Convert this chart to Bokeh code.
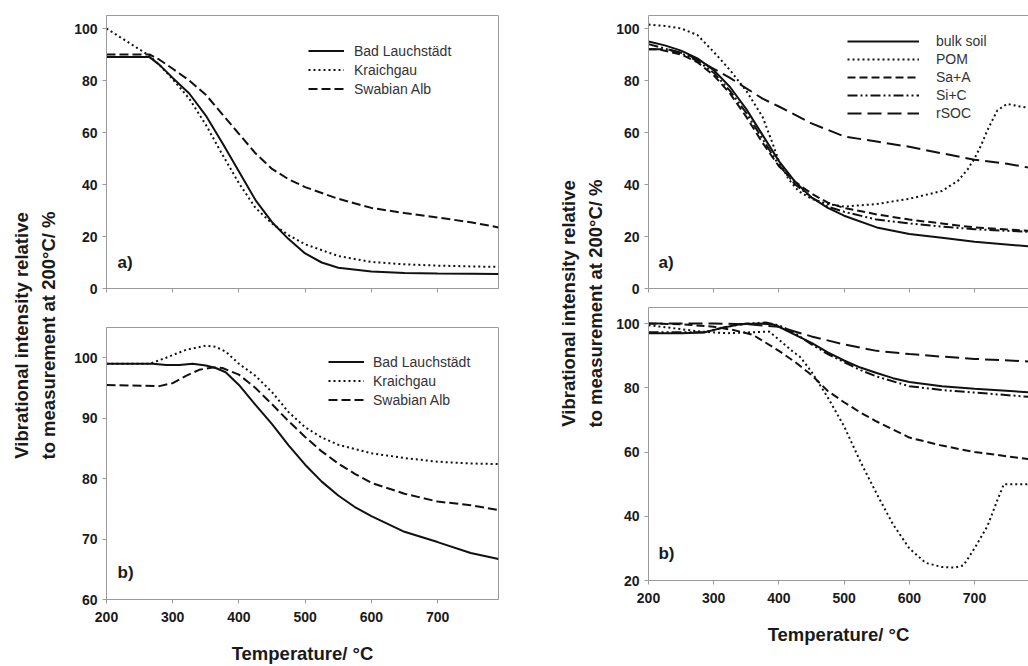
import math
from bokeh.plotting import figure
from bokeh.layouts import row, column
from bokeh.models import Label, Legend, LegendItem, LinearAxis, FixedTicker, Range1d
from bokeh.embed import file_html
from bokeh.resources import INLINE

# ---------------- data ----------------
x_ticks = [200, 300, 400, 500, 600, 700]

# Left panel a)
la_names = ["Bad Lauchstädt", "Kraichgau", "Swabian Alb"]
la_bl_t = [200, 265, 280, 300, 325, 350, 375, 400, 425, 450, 475, 500, 525, 550, 600, 650, 700, 750, 792]
la_bl_v = [89, 89, 86, 81, 75, 66.5, 56, 45, 34, 25.5, 19, 13.5, 10, 8, 6.5, 6, 5.8, 5.7, 5.6]
la_kr_t = [200, 265, 280, 300, 325, 350, 375, 400, 425, 450, 475, 500, 550, 600, 650, 700, 750, 792]
la_kr_v = [100, 89.5, 86, 80.5, 73, 63, 51.5, 40.5, 31, 25, 20.5, 17, 12.5, 10.2, 9.3, 8.8, 8.5, 8.3]
la_sa_t = [200, 265, 280, 300, 325, 350, 375, 400, 425, 450, 475, 500, 550, 600, 650, 700, 750, 792]
la_sa_v = [90, 90, 88, 84.5, 80, 74.5, 67, 59.5, 52, 46, 42, 39, 34.5, 31, 29, 27.3, 25.5, 23.5]
la_yticks = [0, 20, 40, 60, 80, 100]

# Left panel b)
lb_bl_t = [200, 270, 290, 310, 330, 350, 365, 380, 400, 425, 450, 475, 500, 525, 550, 575, 600, 650, 700, 750, 792]
lb_bl_v = [99, 99, 98.8, 98.8, 99, 98.7, 98.3, 97.6, 95.5, 92.2, 89, 85.5, 82.3, 79.5, 77.2, 75.3, 73.8, 71.2, 69.5, 67.7, 66.7]
lb_kr_t = [200, 265, 290, 320, 350, 365, 380, 400, 425, 450, 475, 500, 525, 550, 600, 650, 700, 750, 792]
lb_kr_v = [99, 99, 100, 101.3, 102, 101.8, 101, 99, 97, 94.3, 91, 88.5, 86.8, 85.6, 84.2, 83.4, 82.8, 82.5, 82.4]
lb_sa_t = [200, 280, 300, 320, 340, 360, 375, 400, 425, 450, 475, 500, 525, 550, 575, 600, 650, 700, 750, 792]
lb_sa_v = [95.5, 95.3, 95.8, 97, 98, 98.4, 98.3, 97.2, 95, 92.3, 89.5, 86.9, 84.5, 82.5, 80.8, 79.3, 77.5, 76.2, 75.6, 74.8]
lb_yticks = [60, 70, 80, 90, 100]

# Right panel a)
ra_names = ["bulk soil", "POM", "Sa+A", "Si+C", "rSOC"]
ra_bulk_t = [200, 225, 250, 275, 300, 325, 350, 375, 400, 425, 450, 475, 500, 550, 600, 650, 700, 783]
ra_bulk_v = [95, 93.5, 91.5, 88.5, 84, 77.5, 69, 59, 49, 41, 35, 31, 28, 23.5, 21, 19.5, 18, 16.2]
ra_pom_t = [200, 225, 250, 275, 300, 325, 350, 375, 390, 400, 415, 430, 450, 475, 500, 550, 600, 650, 675, 690, 700, 710, 720, 735, 750, 770, 783]
ra_pom_v = [101.5, 101, 100, 97.5, 91, 84, 76, 66, 56, 49, 42, 37.5, 34.5, 32.5, 31.5, 32.5, 34.5, 37.5, 41.5, 46, 50, 55, 61, 68.5, 71, 70, 69.5]
ra_saa_t = [200, 215, 250, 275, 300, 325, 350, 375, 400, 425, 450, 475, 500, 550, 600, 650, 700, 783]
ra_saa_v = [92, 92, 90, 87, 82, 75, 66, 56, 47, 41, 36.5, 33, 31, 28.5, 26.5, 25, 23.5, 22.2]
ra_sic_t = [200, 215, 250, 275, 300, 325, 350, 375, 400, 425, 450, 475, 500, 550, 600, 650, 700, 783]
ra_sic_v = [94, 93, 90.5, 87.5, 83, 76, 67.5, 57.5, 47.5, 40, 35, 31.5, 29.5, 26.5, 25, 23.8, 22.8, 21.8]
ra_rsoc_t = [200, 230, 260, 300, 325, 350, 375, 400, 425, 450, 475, 500, 550, 600, 650, 700, 750, 783]
ra_rsoc_v = [92, 92, 90, 84.5, 81, 77, 73, 70, 66.8, 63.5, 61, 58.5, 56.5, 54.5, 52, 49.5, 48, 46.5]
ra_yticks = [0, 20, 40, 60, 80, 100]

# Right panel b)
rb_bulk_t = [200, 250, 285, 310, 340, 370, 390, 400, 425, 450, 475, 500, 525, 550, 575, 600, 650, 700, 783]
rb_bulk_v = [97, 97, 97.2, 98.5, 99.8, 100, 99.8, 99, 96.5, 94, 91, 88.5, 86.3, 84.6, 83, 81.8, 80.5, 79.7, 78.6]
rb_pom_t = [200, 240, 280, 320, 360, 385, 400, 420, 433, 450, 475, 500, 525, 550, 575, 600, 625, 650, 670, 683, 700, 720, 735, 745, 783]
rb_pom_v = [99.5, 98.5, 97.5, 97, 97.3, 97.5, 95, 91.5, 89.5, 85, 77, 68, 57, 47, 37.5, 30, 25.5, 24.2, 24, 24.7, 30, 37, 45, 50, 50]
rb_saa_t = [200, 250, 300, 330, 360, 400, 425, 450, 475, 500, 525, 550, 575, 600, 650, 700, 783]
rb_saa_v = [100, 99.8, 99, 98, 96.5, 91.5, 88, 84, 79, 75.5, 72.3, 69.5, 67, 64.5, 62, 60, 57.8]
rb_sic_t = [200, 250, 285, 320, 350, 380, 400, 425, 450, 475, 500, 525, 550, 600, 650, 700, 783]
rb_sic_v = [97.3, 97.3, 97.3, 99, 100, 100.3, 99.5, 97, 93.5, 90.5, 88, 85.5, 83.5, 80.5, 79.3, 78.5, 77.2]
rb_rsoc_t = [200, 250, 300, 350, 400, 450, 500, 550, 600, 650, 700, 783]
rb_rsoc_v = [100, 100, 100, 99.8, 99, 96, 93.5, 91.5, 90.5, 89.7, 89, 88.2]
rb_yticks = [20, 40, 60, 80, 100]

y_title_1 = "Vibrational intensity relative"
y_title_2 = "to measurement at 200°C/ %"
x_title = "Temperature/ °C"

# ---------------- styling ----------------
FONT = "Liberation Sans"
FRAME = "#9a9a9a"
INK = "#111111"
TXT = "#1a1a1a"


def style_axis(ax, ticks, show_labels, standoff):
    ax.axis_line_color = FRAME
    ax.major_tick_line_color = FRAME
    ax.major_tick_out = 4
    ax.major_tick_in = 0
    ax.major_label_text_font = FONT
    ax.major_label_text_font_style = "bold"
    ax.major_label_text_color = TXT
    ax.major_label_text_font_size = "14px"
    ax.major_label_standoff = standoff
    if show_labels:
        ax.ticker = FixedTicker(ticks=ticks)
        ax.minor_tick_line_color = None
    else:
        # tick marks only, no labels: draw them as minor ticks
        ax.ticker = FixedTicker(ticks=[], minor_ticks=ticks)
        ax.minor_tick_line_color = FRAME
        ax.minor_tick_out = 4
        ax.minor_tick_in = 0


def make_fig(width, height, xr, yr, yticks, borders, show_x, outline, xlabel_standoff=None):
    p = figure(width=width, height=height, x_range=Range1d(*xr), y_range=Range1d(*yr),
               output_backend="svg", toolbar_location=None,
               min_border_left=borders[0], min_border_right=borders[1],
               min_border_top=borders[2], min_border_bottom=borders[3])
    p.grid.visible = False
    p.outline_line_color = FRAME if outline else None
    style_axis(p.xaxis[0], x_ticks, show_x, 8)
    style_axis(p.yaxis[0], yticks, True, 5)
    if xlabel_standoff is not None:
        p.xaxis[0].axis_label = x_title
        p.xaxis[0].axis_label_text_font = FONT
        p.xaxis[0].axis_label_text_font_size = "18.5px"
        p.xaxis[0].axis_label_text_font_style = "bold"
        p.xaxis[0].axis_label_text_color = TXT
        p.xaxis[0].axis_label_standoff = xlabel_standoff
    if not outline:
        top = LinearAxis(ticker=FixedTicker(ticks=[]), axis_line_color=FRAME,
                         major_label_standoff=0,
                         major_tick_out=0, major_tick_in=0, minor_tick_out=0, minor_tick_in=0,
                         major_tick_line_color=None, minor_tick_line_color=None)
        p.add_layout(top, "above")
    return p


def add_legend(p, items, x, y, glyph_w, standoff, row_h):
    lg = Legend(items=[LegendItem(label=n, renderers=[r]) for n, r in items],
                location=(x, y), orientation="vertical",
                glyph_width=glyph_w, glyph_height=row_h, label_height=row_h,
                label_standoff=standoff, padding=0, spacing=0, margin=0,
                border_line_color=None, background_fill_alpha=0,
                label_text_font=FONT, label_text_font_size="14px", label_text_color="#333333")
    p.add_layout(lg)


def panel_letter(p, text, x, y):
    p.add_layout(Label(x=x, y=y, text=text, text_align="left", text_baseline="middle",
                       text_font=FONT, text_font_size="17px", text_font_style="bold", text_color=TXT))


def title_fig(width, height, cx1, cx2, cy):
    p = figure(width=width, height=height, x_range=Range1d(0, width), y_range=Range1d(0, height),
               output_backend="svg", toolbar_location=None, min_border=0,
               x_axis_location=None, y_axis_location=None)
    p.grid.visible = False
    p.outline_line_color = None
    for cx, txt in ((cx1, y_title_1), (cx2, y_title_2)):
        p.add_layout(Label(x=cx, y=cy, text=txt, angle=math.pi / 2, text_align="center",
                           text_baseline="middle", text_font=FONT, text_font_size="18.5px",
                           text_font_style="bold", text_color=TXT))
    return p


SOLID = "solid"
DOT = "2 3"
DASH = "9 4"
SHORT_DASH = "8 4"
DASH_DOT_DOT = "10 3 2 3 2 3"
LONG_DASH = "14 6"
LW = 2

# ---------------- left a ----------------
la = make_fig(460, 307, (200, 792), (0, 105), la_yticks, (46, 22, 15, 19), False, True)
r1 = la.line(la_bl_t, la_bl_v, line_color=INK, line_width=LW, line_dash=SOLID)
r2 = la.line(la_kr_t, la_kr_v, line_color=INK, line_width=LW, line_dash=DOT)
r3 = la.line(la_sa_t, la_sa_v, line_color=INK, line_width=LW, line_dash=DASH)
add_legend(la, list(zip(la_names, [r1, r2, r3])), 202, 190, 36, 10, 19)
panel_letter(la, "a)", 216.6, 10)

# ---------------- left b ----------------
lb = make_fig(460, 359, (200, 792), (60, 105), lb_yticks, (46, 22, 20, 66), True, True, xlabel_standoff=18)
s1 = lb.line(lb_bl_t, lb_bl_v, line_color=INK, line_width=LW, line_dash=SOLID)
s2 = lb.line(lb_kr_t, lb_kr_v, line_color=INK, line_width=LW, line_dash=DOT)
s3 = lb.line(lb_sa_t, lb_sa_v, line_color=INK, line_width=LW, line_dash=DASH)
add_legend(lb, list(zip(la_names, [s1, s2, s3])), 222, 190, 36, 9, 19)
panel_letter(lb, "b)", 216.6, 64.45)

# ---------------- right a ----------------
ra = make_fig(422, 297, (200, 782.8), (0, 105), ra_yticks, (42, 0, 15, 9), False, False)
q1 = ra.line(ra_bulk_t, ra_bulk_v, line_color=INK, line_width=LW, line_dash=SOLID)
q2 = ra.line(ra_pom_t, ra_pom_v, line_color=INK, line_width=LW, line_dash=DOT)
q3 = ra.line(ra_saa_t, ra_saa_v, line_color=INK, line_width=LW, line_dash=SHORT_DASH)
q4 = ra.line(ra_sic_t, ra_sic_v, line_color=INK, line_width=LW, line_dash=DASH_DOT_DOT)
q5 = ra.line(ra_rsoc_t, ra_rsoc_v, line_color=INK, line_width=LW, line_dash=LONG_DASH)
add_legend(ra, list(zip(ra_names, [q1, q2, q3, q4, q5])), 199, 166, 72, 17, 18)
panel_letter(ra, "a)", 215.3, 10)

# ---------------- right b ----------------
rb = make_fig(422, 369, (200, 782.8), (20, 105), rb_yticks, (42, 0, 10, 86), True, False, xlabel_standoff=18)
rb.line(rb_bulk_t, rb_bulk_v, line_color=INK, line_width=LW, line_dash=SOLID)
rb.line(rb_pom_t, rb_pom_v, line_color=INK, line_width=LW, line_dash=DOT)
rb.line(rb_saa_t, rb_saa_v, line_color=INK, line_width=LW, line_dash=SHORT_DASH)
rb.line(rb_sic_t, rb_sic_v, line_color=INK, line_width=LW, line_dash=DASH_DOT_DOT)
rb.line(rb_rsoc_t, rb_rsoc_v, line_color=INK, line_width=LW, line_dash=LONG_DASH)
panel_letter(rb, "b)", 215.3, 28.4)

lt = title_fig(60, 666, 21, 47.5, 331)
rt = title_fig(86, 666, 48, 75, 363)

layout = row(lt, column(la, lb), rt, column(ra, rb))
open("out.html", "w").write(file_html(layout, INLINE))
